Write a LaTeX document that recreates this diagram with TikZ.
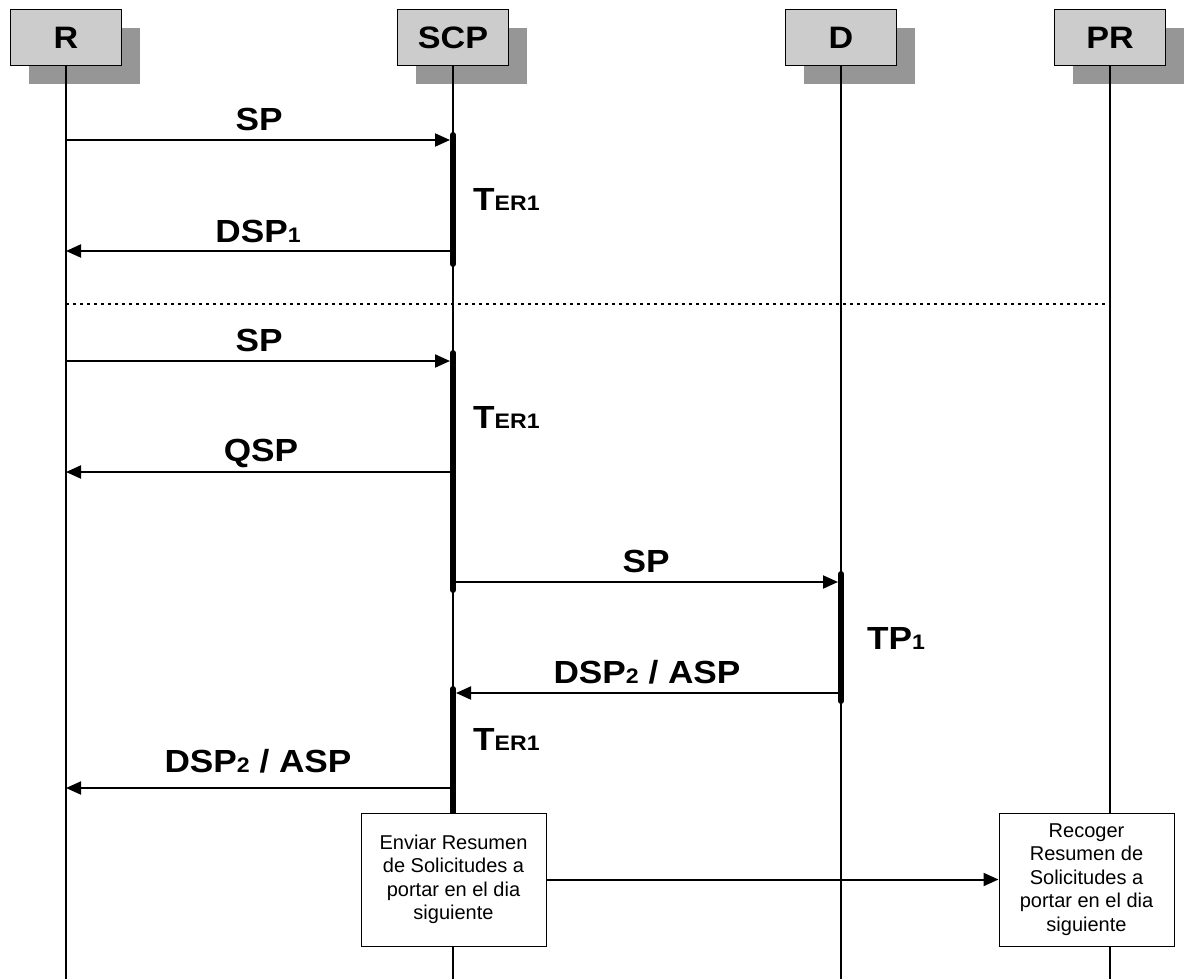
\documentclass[tikz,border=0pt]{standalone}
\usepackage{fontspec}
\setmainfont{Liberation Sans}
\newfontfamily\lblfont{Liberation Sans}[FakeStretch=1.1]
\usetikzlibrary{arrows.meta}
\definecolor{boxgray}{HTML}{CCCCCC}
\definecolor{shadowgray}{HTML}{969696}
\newcommand{\lowsub}[1]{{\fontsize{21}{22}\selectfont #1}}
\tikzset{
  hdr/.style={draw=black, line width=1pt, fill=boxgray, minimum width=111pt, minimum height=56pt, inner sep=0pt, font=\lblfont\bfseries\fontsize{31}{32}\selectfont},
  shadowbox/.style={fill=shadowgray, minimum width=111pt, minimum height=56pt, inner sep=0pt},
  life/.style={line width=1.7pt},
  act/.style={line width=6pt, line cap=round},
  msg/.style={line width=2pt, -{Triangle[length=15pt,width=13pt]}},
  lab/.style={anchor=base, inner sep=0pt, font=\lblfont\bfseries\fontsize{32}{33}\selectfont},
  tlab/.style={anchor=base west, inner sep=0pt, font=\lblfont\bfseries\fontsize{32}{33}\selectfont},
  note/.style={draw, line width=1pt, fill=white, align=center, font=\fontsize{20}{23.5}\selectfont, inner sep=0pt, minimum height=133pt},
  sep/.style={line width=2.5pt, dash pattern=on 2.5pt off 4.5pt},
}
\begin{document}
\begin{tikzpicture}[x=1pt,y=-1pt]
\useasboundingbox (0,0) rectangle (1190,979);
% header shadows and boxes
\node[shadowbox] (Rs) at (84,56) {};
\node[shadowbox] (SCPs) at (471,56) {};
\node[shadowbox] (Ds) at (859,56) {};
\node[shadowbox] (PRs) at (1128,56) {};
\node[hdr] (R) at (66,38) {R};
\node[hdr] (SCP) at (453,38) {SCP};
\node[hdr] (D) at (841,38) {D};
\node[hdr] (PR) at (1110,38) {PR};
% lifeline ends
\coordinate (Rend) at (66,979);
\coordinate (SCPend) at (453,979);
\coordinate (Dend) at (841,979);
\coordinate (PRend) at (1110,979);
\draw[life] (R.south) -- (Rend);
\draw[life] (SCP.south) -- (SCPend);
\draw[life] (D.south) -- (Dend);
\draw[life] (PR.south) -- (PRend);
% activation bars
\coordinate (a1t) at (453,135); \coordinate (a1b) at (453,264);
\coordinate (a2t) at (453,353); \coordinate (a2b) at (453,590);
\coordinate (a3t) at (453,689); \coordinate (a3b) at (453,813);
\coordinate (a4t) at (841,574); \coordinate (a4b) at (841,701);
\draw[act] (a1t) -- (a1b);
\draw[act] (a2t) -- (a2b);
\draw[act] (a3t) -- (a3b);
\draw[act] (a4t) -- (a4b);
% separator
\coordinate (sepL) at (66,304); \coordinate (sepR) at (1110,304);
\draw[sep] (sepL) -- (sepR);
% message endpoints
\coordinate (m1a) at (66,140);  \coordinate (m1b) at (450,140);
\coordinate (m2a) at (453,251); \coordinate (m2b) at (66,251);
\coordinate (m3a) at (66,361);  \coordinate (m3b) at (450,361);
\coordinate (m4a) at (453,472); \coordinate (m4b) at (66,472);
\coordinate (m5a) at (453,582); \coordinate (m5b) at (838,582);
\coordinate (m6a) at (841,693); \coordinate (m6b) at (456,693);
\coordinate (m7a) at (453,788); \coordinate (m7b) at (66,788);
\draw[msg] (m1a) -- (m1b);
\draw[msg] (m2a) -- (m2b);
\draw[msg] (m3a) -- (m3b);
\draw[msg] (m4a) -- (m4b);
\draw[msg] (m5a) -- (m5b);
\draw[msg] (m6a) -- (m6b);
\draw[msg] (m7a) -- (m7b);
% message labels
\node[lab] (l1) at (259,130) {SP};
\node[lab] (l2) at (258,242) {DSP\lowsub{1}};
\node[lab] (l3) at (259,351) {SP};
\node[lab] (l4) at (261,461) {QSP};
\node[lab] (l5) at (646,572) {SP};
\node[lab] (l6) at (647,683) {DSP\lowsub{2} / ASP};
\node[lab] (l7) at (258,772) {DSP\lowsub{2} / ASP};
% timer labels
\node[tlab] (t1) at (473,210) {T\lowsub{ER1}};
\node[tlab] (t2) at (473,428) {T\lowsub{ER1}};
\node[tlab] (t3) at (473,750) {T\lowsub{ER1}};
\node[tlab] (t4) at (867,649) {TP\lowsub{1}};
% notes
\node[note, minimum width=185pt] (n1) at (453.5,879.5) {Enviar Resumen\\de Solicitudes a\\portar en el dia\\siguiente};
\node[note, minimum width=175pt] (n2) at (1086.5,879.5) {Recoger\\Resumen de\\Solicitudes a\\portar en el dia\\siguiente};
\draw[msg] (n1.east) -- (n2.west);
\end{tikzpicture}
\end{document}
